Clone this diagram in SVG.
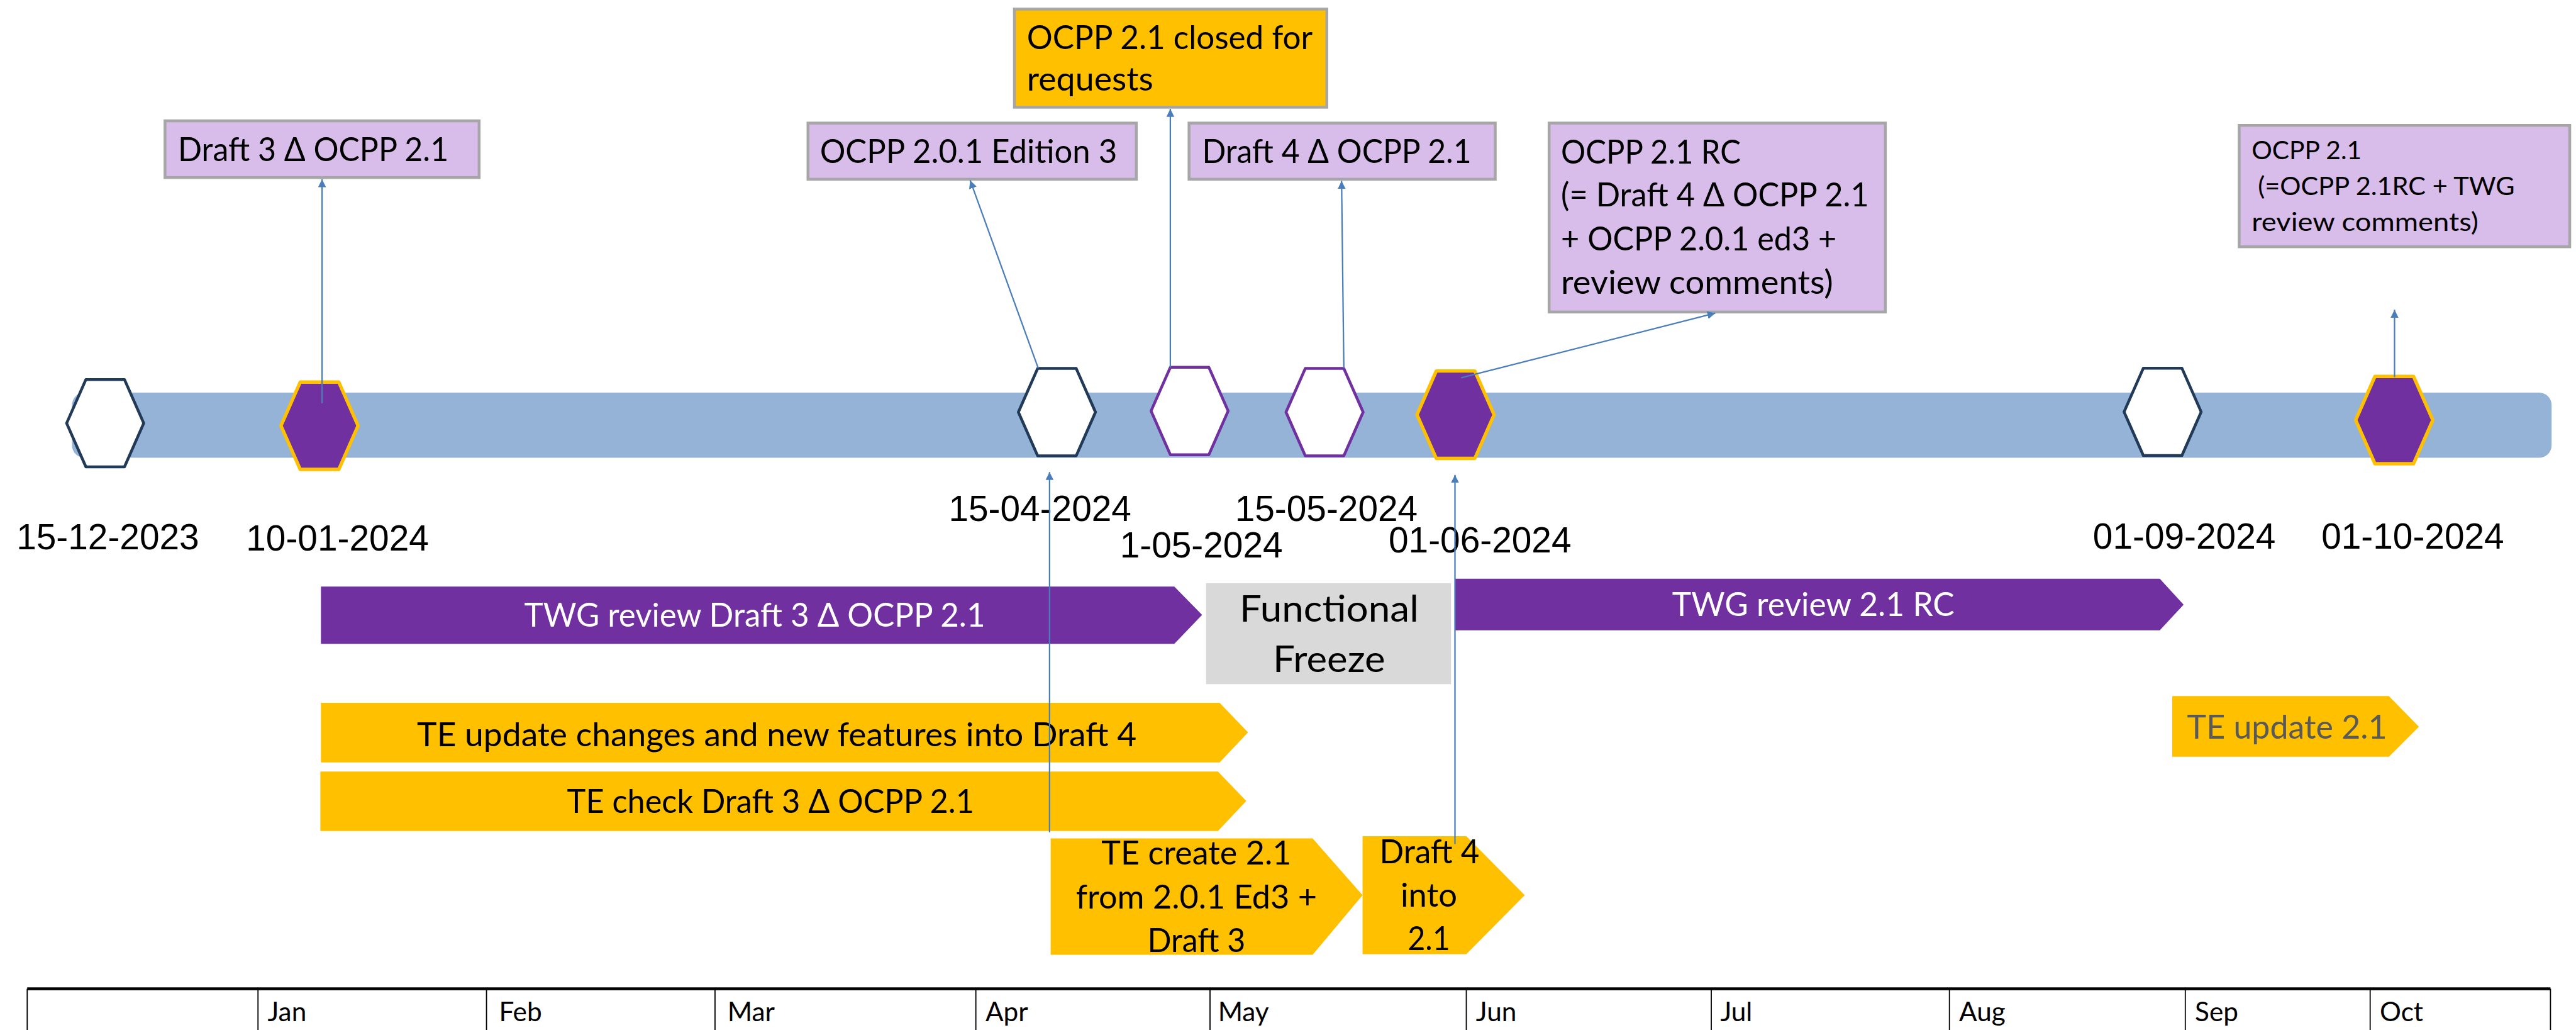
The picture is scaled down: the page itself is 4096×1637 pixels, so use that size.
<svg xmlns="http://www.w3.org/2000/svg" width="4096" height="1637" viewBox="0 0 4096 1637">
  <style>
    .cal { font-family: Lato, "Open Sans", "Noto Sans", sans-serif; font-size: 57px; fill: #000; }
    .cal-s { font-family: Lato, "Open Sans", "Noto Sans", sans-serif; font-size: 46px; fill: #000; }
    .cal-l { font-family: Lato, "Open Sans", "Noto Sans", sans-serif; font-size: 65px; fill: #000; }
    .mon { font-family: Lato, "Open Sans", "Noto Sans", sans-serif; font-size: 47px; fill: #000; }
    .date { font-family: "Liberation Sans", Arial, sans-serif; font-size: 63px; fill: #000; }
    .white { fill: #FFFFFF; }
    .grey { fill: #595959; }
    .note { fill: #D8BCEA; stroke: #A6A6A6; stroke-width: 5; }
    .note-gold { fill: #FFC000; stroke: #A6A6A6; stroke-width: 5; }
    .ms-open { fill: #FFFFFF; stroke: #213A57; stroke-width: 5; stroke-linejoin: round; }
    .ms-pend { fill: #FFFFFF; stroke: #7030A0; stroke-width: 5; stroke-linejoin: round; }
    .ms-rel { fill: #7030A0; stroke: #FFC000; stroke-width: 6; stroke-linejoin: round; }
    .task-p { fill: #7030A0; }
    .task-y { fill: #FFC000; }
    .link { fill: none; stroke: #4A7EBB; stroke-width: 2.5; marker-end: url(#head); }
    .grid { stroke: #000; stroke-width: 2; fill: none; }
  </style>
  <defs>
    <marker id="head" markerUnits="userSpaceOnUse" markerWidth="16" markerHeight="16" refX="14" refY="7" orient="auto">
      <path d="M0,0 L14,7 L0,14 Z" fill="#4A7EBB"/>
    </marker>
    <polygon id="hex" points="-34,-77 34,-77 68,0 34,77 -34,77 -68,0"/>
  </defs>

  <rect width="4096" height="1637" fill="#FFFFFF"/>

  <g transform="scale(0.9016)">
    <!-- timeline band -->
    <rect id="timeline" x="127" y="692" width="4373" height="115" rx="22" fill="#95B3D7"/>

    <!-- milestones -->
    <g id="ms-2023-12-15"><use href="#hex" class="ms-open" transform="translate(185.5,746)"/><text class="date" x="29" y="968">15-12-2023</text></g>
    <g id="ms-2024-01-10"><use href="#hex" class="ms-rel" transform="translate(563.5,750.5)"/><text class="date" x="434" y="970">10-01-2024</text></g>
    <g id="ms-2024-04-15"><use href="#hex" class="ms-open" transform="translate(1864,726.5)"/><text class="date" x="1673" y="918">15-04-2024</text></g>
    <g id="ms-2024-05-01"><use href="#hex" class="ms-pend" transform="translate(2098,724.5)"/><text class="date" x="1975" y="983">1-05-2024</text></g>
    <g id="ms-2024-05-15"><use href="#hex" class="ms-pend" transform="translate(2336,726.5)"/><text class="date" x="2178" y="918">15-05-2024</text></g>
    <g id="ms-2024-06-01"><use href="#hex" class="ms-rel" transform="translate(2567,731)"/><text class="date" x="2449" y="974">01-06-2024</text></g>
    <g id="ms-2024-09-01"><use href="#hex" class="ms-open" transform="translate(3814,726)"/><text class="date" x="3691" y="967">01-09-2024</text></g>
    <g id="ms-2024-10-01"><use href="#hex" class="ms-rel" transform="translate(4222.5,740.5)"/><text class="date" x="4094" y="967">01-10-2024</text></g>

    <!-- release notes -->
    <g id="note-draft3">
      <rect class="note" x="291" y="213" width="554" height="100"/>
      <text class="cal" x="314" y="284" textLength="477" lengthAdjust="spacingAndGlyphs">Draft 3 Δ OCPP 2.1</text>
    </g>
    <g id="note-ed3">
      <rect class="note" x="1425" y="217" width="579" height="99"/>
      <text class="cal" x="1446" y="287" textLength="524" lengthAdjust="spacingAndGlyphs">OCPP 2.0.1 Edition 3</text>
    </g>
    <g id="note-closed">
      <rect class="note-gold" x="1789" y="16" width="551" height="173"/>
      <text class="cal" x="1811" y="86" textLength="504" lengthAdjust="spacingAndGlyphs">OCPP 2.1 closed for</text>
      <text class="cal" x="1811" y="160" textLength="223" lengthAdjust="spacingAndGlyphs">requests</text>
    </g>
    <g id="note-draft4">
      <rect class="note" x="2097" y="217" width="540" height="99"/>
      <text class="cal" x="2120" y="287" textLength="475" lengthAdjust="spacingAndGlyphs">Draft 4 Δ OCPP 2.1</text>
    </g>
    <g id="note-rc">
      <rect class="note" x="2732" y="217" width="593" height="333"/>
      <text class="cal" x="2753" y="288" textLength="317" lengthAdjust="spacingAndGlyphs">OCPP 2.1 RC</text>
      <text class="cal" x="2753" y="364" textLength="543" lengthAdjust="spacingAndGlyphs">(= Draft 4 Δ OCPP 2.1</text>
      <text class="cal" x="2753" y="441" textLength="486" lengthAdjust="spacingAndGlyphs">+ OCPP 2.0.1 ed3 +</text>
      <text class="cal" x="2753" y="518" textLength="480" lengthAdjust="spacingAndGlyphs">review comments)</text>
    </g>
    <g id="note-final">
      <rect class="note" x="3949" y="221" width="583" height="214"/>
      <text class="cal-s" x="3971" y="281" textLength="194" lengthAdjust="spacingAndGlyphs">OCPP 2.1</text>
      <text class="cal-s" x="3982" y="344" textLength="453" lengthAdjust="spacingAndGlyphs">(=OCPP 2.1RC + TWG</text>
      <text class="cal-s" x="3971" y="407" textLength="400" lengthAdjust="spacingAndGlyphs">review comments)</text>
    </g>

    <!-- activities -->
    <g id="task-twg-draft3">
      <polygon class="task-p" points="566,1034 2071,1034 2120,1084 2071,1135 566,1135"/>
      <text class="cal white" x="1331" y="1105" text-anchor="middle" textLength="813" lengthAdjust="spacingAndGlyphs">TWG review Draft 3 Δ OCPP 2.1</text>
    </g>
    <g id="freeze">
      <rect x="2127" y="1028" width="432" height="178" fill="#D9D9D9"/>
      <text class="cal-l" x="2344" y="1096" text-anchor="middle" textLength="316" lengthAdjust="spacingAndGlyphs">Functional</text>
      <text class="cal-l" x="2344" y="1185" text-anchor="middle" textLength="198" lengthAdjust="spacingAndGlyphs">Freeze</text>
    </g>
    <g id="task-twg-rc">
      <polygon class="task-p" points="2566,1020 3809,1020 3851,1066 3809,1111 2566,1111"/>
      <text class="cal white" x="3198" y="1086" text-anchor="middle" textLength="498" lengthAdjust="spacingAndGlyphs">TWG review 2.1 RC</text>
    </g>
    <g id="task-te-update">
      <polygon class="task-y" points="566,1239 2151,1239 2201,1291 2151,1344 566,1344"/>
      <text class="cal" x="1370" y="1315" text-anchor="middle" textLength="1269" lengthAdjust="spacingAndGlyphs">TE update changes and new features into Draft 4</text>
    </g>
    <g id="task-te-check">
      <polygon class="task-y" points="565,1360 2148,1360 2198,1412 2148,1465 565,1465"/>
      <text class="cal" x="1359" y="1433" text-anchor="middle" textLength="718" lengthAdjust="spacingAndGlyphs">TE check Draft 3 Δ OCPP 2.1</text>
    </g>
    <g id="task-te-create">
      <polygon class="task-y" points="1853,1478 2315,1478 2403,1578 2315,1683 1853,1683"/>
      <text class="cal" x="2110" y="1524" text-anchor="middle" textLength="335" lengthAdjust="spacingAndGlyphs">TE create 2.1</text>
      <text class="cal" x="2110" y="1602" text-anchor="middle" textLength="425" lengthAdjust="spacingAndGlyphs">from 2.0.1 Ed3 +</text>
      <text class="cal" x="2110" y="1678" text-anchor="middle" textLength="173" lengthAdjust="spacingAndGlyphs">Draft 3</text>
    </g>
    <g id="task-draft4-into">
      <polygon class="task-y" points="2403,1474 2586,1474 2689,1578 2586,1682 2403,1682"/>
      <text class="cal" x="2521" y="1522" text-anchor="middle" textLength="176" lengthAdjust="spacingAndGlyphs">Draft 4</text>
      <text class="cal" x="2520" y="1598" text-anchor="middle" textLength="100" lengthAdjust="spacingAndGlyphs">into</text>
      <text class="cal" x="2520" y="1675" text-anchor="middle" textLength="75" lengthAdjust="spacingAndGlyphs">2.1</text>
    </g>
    <g id="task-te-update-21">
      <polygon class="task-y" points="3831,1227 4213,1227 4266,1281 4213,1334 3831,1334"/>
      <text class="cal grey" x="3857" y="1302" textLength="353" lengthAdjust="spacingAndGlyphs">TE update 2.1</text>
    </g>

    <!-- month scale -->
    <g id="months">
      <line x1="48" y1="1743" x2="4498" y2="1743" stroke="#000" stroke-width="5"/>
      <path class="grid" d="M48,1743V1816 M455,1743V1816 M858,1743V1816 M1261,1743V1816 M1721,1743V1816 M2134,1743V1816 M2586,1743V1816 M3018,1743V1816 M3438,1743V1816 M3854,1743V1816 M4180,1743V1816 M4498,1743V1816"/>
      <text class="mon" x="472" y="1800">Jan</text>
      <text class="mon" x="880" y="1800">Feb</text>
      <text class="mon" x="1283" y="1800">Mar</text>
      <text class="mon" x="1738" y="1800">Apr</text>
      <text class="mon" x="2148" y="1800">May</text>
      <text class="mon" x="2603" y="1800">Jun</text>
      <text class="mon" x="3034" y="1800">Jul</text>
      <text class="mon" x="3455" y="1800">Aug</text>
      <text class="mon" x="3871" y="1800">Sep</text>
      <text class="mon" x="4197" y="1800">Oct</text>
    </g>

    <!-- connectors -->
    <g id="connectors">
      <path class="link" d="M568,711 L568,316"/>
      <path class="link" d="M1831,649 L1711,318"/>
      <path class="link" d="M2064,648 L2064,192"/>
      <path class="link" d="M2370,649 L2366,319"/>
      <path class="link" d="M2577,666 L3025,552"/>
      <path class="link" d="M4223,665 L4223,546"/>
      <path class="link" d="M1851,1467 L1851,832"/>
      <path class="link" d="M2566,1488 L2566,837"/>
    </g>
  </g>
</svg>
